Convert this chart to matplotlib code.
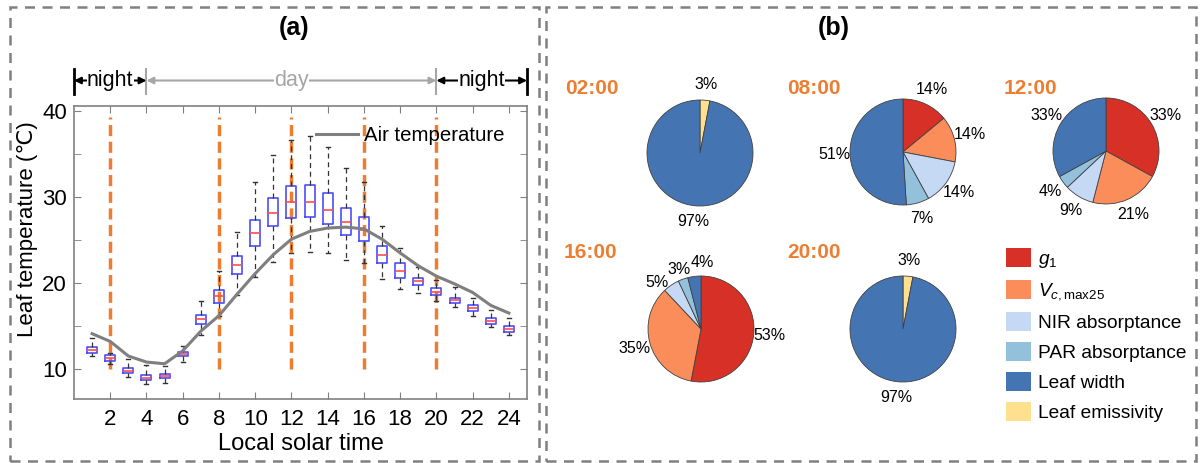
import numpy as np
import matplotlib
matplotlib.use('Agg')
import matplotlib.pyplot as plt
from matplotlib.patches import Rectangle, Patch

plt.rcParams['font.family'] = ['Liberation Sans', 'DejaVu Sans']
plt.rcParams['mathtext.fontset'] = 'custom'
plt.rcParams['mathtext.rm'] = 'Liberation Sans'
plt.rcParams['mathtext.it'] = 'Liberation Sans:italic'

# ---- panel (a): leaf temperature box plots per hour ----
hours = np.arange(1, 25)
air_temp = [14.1, 13.2, 11.5, 10.8, 10.6, 12.1, 14.4, 16.2, 18.7, 21.1, 23.3, 25.1,
            26.0, 26.4, 26.5, 26.3, 25.1, 23.5, 22.0, 20.8, 19.9, 18.9, 17.4, 16.5]
whis_lo = [11.55, 10.6, 9.1, 8.3, 8.4, 10.85, 13.9, 16.2, 18.6, 20.65, 22.5, 23.5,
           23.65, 23.5, 22.7, 22.3, 20.5, 19.3, 18.85, 17.95, 17.25, 16.2, 14.85, 13.9]
q1 = [11.9, 10.9, 9.5, 8.7, 8.9, 11.5, 15.2, 17.7, 21.0, 24.3, 26.6, 27.6,
      27.65, 26.9, 25.6, 24.85, 22.3, 20.6, 19.8, 18.6, 17.7, 16.7, 15.2, 14.35]
med = [12.25, 11.3, 9.8, 9.0, 9.2, 11.75, 15.8, 18.45, 22.1, 25.8, 28.15, 29.4,
       29.4, 28.5, 27.15, 26.2, 23.3, 21.45, 20.2, 19.0, 18.0, 17.05, 15.55, 14.65]
q3 = [12.6, 11.6, 10.1, 9.35, 9.45, 12.0, 16.3, 19.2, 23.1, 27.3, 29.9, 31.3,
      31.4, 30.5, 28.7, 27.7, 24.3, 22.3, 20.6, 19.4, 18.3, 17.4, 15.9, 15.0]
whis_hi = [13.6, 11.9, 11.2, 10.4, 10.3, 12.7, 17.9, 21.35, 25.9, 31.7, 34.9, 36.7,
           37.1, 35.8, 33.4, 31.8, 26.6, 24.1, 21.9, 20.4, 19.5, 18.3, 16.9, 15.9]
marked_hours = [2, 8, 12, 16, 20]

# ---- panel (b): sensitivity shares (%) ----
pie_times = ['02:00', '08:00', '12:00', '16:00', '20:00']
share_g1 = [0, 14, 33, 53, 0]
share_vc = [0, 14, 21, 35, 0]
share_nir = [0, 14, 9, 5, 0]
share_par = [0, 7, 4, 3, 0]
share_lw = [97, 51, 33, 4, 97]
share_emis = [3, 0, 0, 0, 3]
factor_names = [r'$g_1$', r'$V_{c,\mathrm{max25}}$', 'NIR absorptance',
                'PAR absorptance', 'Leaf width', 'Leaf emissivity']
factor_colors = ['#d73027', '#fa8d5a', '#c6d9f4', '#93c0db', '#4574b3', '#fee08f']

W, H = 1201, 463
fig = plt.figure(figsize=(W/100, H/100), dpi=100)

def fx(px):
    return px/W

def fy(py):
    return 1 - py/H

# dashed panel frames
for x0, x1 in [(10, 539), (546, 1196)]:
    fig.patches.append(Rectangle((fx(x0), fy(461)), fx(x1-x0), (461-7)/H, fill=False,
                                 ec='#808080', lw=1.8, ls=(0, (4, 3)),
                                 transform=fig.transFigure))
fig.text(fx(294), fy(28), '(a)', fontsize=18, fontweight='bold', ha='center', va='center')
fig.text(fx(834), fy(28), '(b)', fontsize=18, fontweight='bold', ha='center', va='center')

ax = fig.add_axes([fx(74), fy(399), fx(527-74), (399-106)/H])
for h in marked_hours:
    ax.plot([h, h], [10, 39.3], color='#ed7d31', lw=2.5, ls=(0, (3.2, 1.6)), zorder=1)

stats = []
for i in range(len(hours)):
    stats.append(dict(med=med[i], q1=q1[i], q3=q3[i], whislo=whis_lo[i], whishi=whis_hi[i],
                      fliers=[]))
ax.bxp(stats, positions=hours, widths=0.55, showfliers=False, manage_ticks=False,
       boxprops=dict(color='#4d4dff', lw=1.2),
       medianprops=dict(color='#ff4d4d', lw=1.2),
       whiskerprops=dict(color='#333333', lw=0.9, ls=(0, (4, 3))),
       capprops=dict(color='#333333', lw=1.0), capwidths=0.22)
ax.plot(hours, air_temp, color='#7f7f7f', lw=2.2, label='Air temperature', zorder=3)

ax.set_xlim(0, 25)
ax.set_ylim(6.5, 40.6)
ax.set_xticks(np.arange(2, 25, 2))
ax.set_yticks([10, 20, 30, 40])
ax.set_yticks([15, 25, 35], minor=True)
ax.tick_params(which='both', direction='in', top=True, right=True, length=5,
               color='#808080', labelsize=16)
ax.tick_params(axis='x', pad=7)
ax.tick_params(axis='y', pad=5)
for s in ax.spines.values():
    s.set_color('#808080')
    s.set_linewidth(1.2)
ax.set_xlabel('Local solar time', fontsize=17, labelpad=2)
ax.set_ylabel('Leaf temperature (℃)', fontsize=16)
ax.yaxis.set_label_coords(-0.08, 0.58)
ax.legend(loc='upper right', bbox_to_anchor=(0.99, 0.995), frameon=False, fontsize=14.7,
          handlelength=2.1, handletextpad=0.25)

# day / night arrows above the axes
tr = ax.get_xaxis_transform()
ya = 1.087
for x, c in [(0, 'black'), (4, '#a6a6a6'), (20, '#a6a6a6'), (25, 'black')]:
    ax.plot([x, x], [1.04, 1.125], color=c, lw=2 if c == 'black' else 1.5,
            transform=tr, clip_on=False)
for x0, x1, txt, c in [(0, 4, 'night', 'black'), (4, 20, 'day', '#a6a6a6'),
                        (20, 25, 'night', 'black')]:
    ax.annotate('', xy=(x0, ya), xytext=(x1, ya), xycoords=tr, textcoords=tr,
                arrowprops=dict(arrowstyle='<|-|>', color=c, lw=1.5,
                                shrinkA=0, shrinkB=0, mutation_scale=10))
    ax.text((x0+x1)/2, ya, txt, transform=tr, ha='center', va='center', color=c,
            fontsize=15.5,
            bbox=dict(fc='white', ec='none', pad=0.3))

# ---- pies ----
pie_centers = [(700, 153), (903, 152), (1106, 151), (701, 329), (903, 329)]
title_pos = [(592, 88), (814, 88), (1030, 88), (590, 253), (814, 253)]
R = 53
shares = np.array([share_emis, share_g1, share_vc, share_nir, share_par, share_lw])
pie_colors = [factor_colors[5]] + factor_colors[:5]
for k, t in enumerate(pie_times):
    cx, cy = pie_centers[k]
    pax = fig.add_axes([fx(cx-R), fy(cy+R), fx(2*R), 2*R/H])
    vals = shares[:, k]
    keep = vals > 0
    wedges, texts, autotexts = pax.pie(vals[keep], colors=np.array(pie_colors)[keep],
                                       startangle=90, counterclock=False,
                                       autopct=lambda p: '%d%%' % round(p),
                                       pctdistance=1.3,
                                       wedgeprops=dict(ec='#404040', lw=0.6),
                                       textprops=dict(fontsize=11.5))
    if t == '16:00':
        # spread the crowded small labels
        autotexts[-1].set_position((0.03, 1.25))
        autotexts[-2].set_position((-0.42, 1.13))
        autotexts[-3].set_position((-0.83, 0.88))
    pax.set_xlim(-1, 1)
    pax.set_ylim(-1, 1)
    tx, ty = title_pos[k]
    fig.text(fx(tx), fy(ty), t, fontsize=15, fontweight='bold', color='#ed7d31',
             ha='center', va='center')

handles = [Patch(fc=c, ec='none') for c in factor_colors]
fig.legend(handles, factor_names, loc='upper left', bbox_to_anchor=(fx(1006), fy(248)),
           frameon=False, fontsize=13.8, handlelength=1.3, handleheight=1.15,
           handletextpad=0.35, labelspacing=0.52, borderpad=0, borderaxespad=0)

fig.savefig('out.png', dpi=100)
